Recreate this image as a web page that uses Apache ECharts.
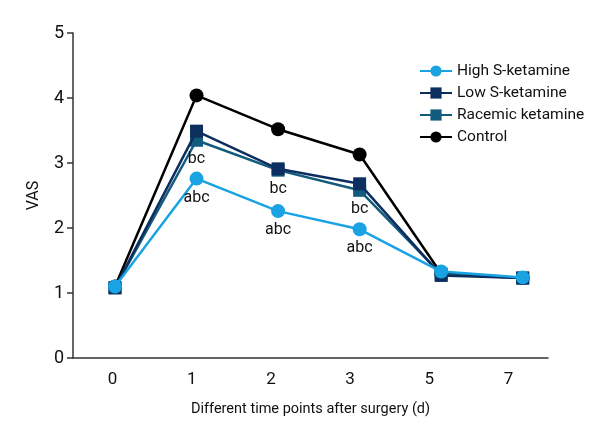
<!DOCTYPE html>
<html>
<head>
<meta charset="utf-8">
<script src="https://cdn.jsdelivr.net/npm/echarts@6/dist/echarts.min.js"></script>
<style>html,body{margin:0;padding:0;background:#fff}#c{width:600px;height:440px}</style>
</head>
<body>
<div id="c"></div>
<script>
var categories = ['0', '1', '2', '3', '5', '7'];
var highS = [1.10, 2.76, 2.26, 1.98, 1.33, 1.24];
var lowS = [1.08, 3.49, 2.91, 2.68, 1.27, 1.23];
var racemic = [1.08, 3.35, 2.89, 2.58, 1.29, 1.23];
var control = [1.10, 4.04, 3.52, 3.13, 1.30, 1.23];
var highLabels = ['', 'abc', 'abc', 'abc', '', ''];
var racemicLabels = ['', 'bc', 'bc', 'bc', '', ''];
var yTicks = [0, 1, 2, 3, 4, 5];

var FONT = 'Roboto, "Noto Sans", sans-serif';

function toData(vals, labels) {
  return vals.map(function (v, i) {
    var item = { value: [i, v] };
    if (labels && labels[i]) item.label = { show: true, formatter: labels[i] };
    return item;
  });
}

var chart = echarts.init(document.getElementById('c'));
chart.setOption({
  animation: false,
  textStyle: { fontFamily: FONT },
  grid: { left: 73, right: 52, top: 33, bottom: 82 },
  legend: {
    orient: 'vertical',
    left: 414,
    top: 58,
    itemGap: 6,
    itemWidth: 32,
    itemHeight: 14,
    textStyle: { fontFamily: FONT, fontSize: 15.5, color: '#111' },
    data: ['High S-ketamine', 'Low S-ketamine', 'Racemic ketamine', 'Control']
  },
  xAxis: [{
    type: 'category',
    data: categories,
    boundaryGap: true,
    name: 'Different time points after surgery (d)',
    nameLocation: 'middle',
    nameGap: 44,
    nameTextStyle: { fontFamily: FONT, fontSize: 14.5, color: '#111' },
    axisLine: { lineStyle: { color: '#333', width: 1.5 } },
    axisTick: { alignWithLabel: true, length: 6, lineStyle: { color: '#333', width: 1.5 } },
    axisLabel: { fontFamily: FONT, fontSize: 17, color: '#111', margin: 13 },
    splitLine: { show: false }
  }, {
    type: 'value',
    min: -0.515,
    max: 5.31,
    show: false,
    position: 'bottom',
    axisLine: { show: false, onZero: false },
    splitLine: { show: false }
  }],
  yAxis: {
    type: 'value',
    min: yTicks[0],
    max: yTicks[yTicks.length - 1],
    interval: 1,
    name: 'VAS',
    nameLocation: 'middle',
    nameGap: 31,
    nameTextStyle: { fontFamily: FONT, fontSize: 16, color: '#111' },
    axisLine: { show: true, onZero: false, lineStyle: { color: '#333', width: 1.5 } },
    axisTick: { show: true, length: 6, lineStyle: { color: '#333', width: 1.5 } },
    axisLabel: { fontFamily: FONT, fontSize: 18, color: '#111', margin: 9 },
    splitLine: { show: false }
  },
  series: [
    {
      name: 'Control', type: 'line', xAxisIndex: 1, data: toData(control), z: 2,
      symbol: 'circle', symbolSize: 14,
      lineStyle: { color: '#000', width: 2.5 },
      itemStyle: { color: '#000' }
    },
    {
      name: 'Racemic ketamine', type: 'line', xAxisIndex: 1, data: toData(racemic, racemicLabels), z: 3,
      symbol: 'rect', symbolSize: 13,
      lineStyle: { color: '#135b7d', width: 2.5 },
      itemStyle: { color: '#135b7d' },
      label: { position: 'bottom', distance: 4, fontFamily: FONT, fontSize: 16, color: '#111' }
    },
    {
      name: 'Low S-ketamine', type: 'line', xAxisIndex: 1, data: toData(lowS), z: 4,
      symbol: 'rect', symbolSize: 13,
      lineStyle: { color: '#0c2f60', width: 2.5 },
      itemStyle: { color: '#0c2f60' }
    },
    {
      name: 'High S-ketamine', type: 'line', xAxisIndex: 1, data: toData(highS, highLabels), z: 5,
      symbol: 'circle', symbolSize: 14,
      lineStyle: { color: '#1aa3e3', width: 2.5 },
      itemStyle: { color: '#1aa3e3' },
      label: { position: 'bottom', distance: 4, fontFamily: FONT, fontSize: 16, color: '#111' }
    }
  ]
});
</script>
</body>
</html>
